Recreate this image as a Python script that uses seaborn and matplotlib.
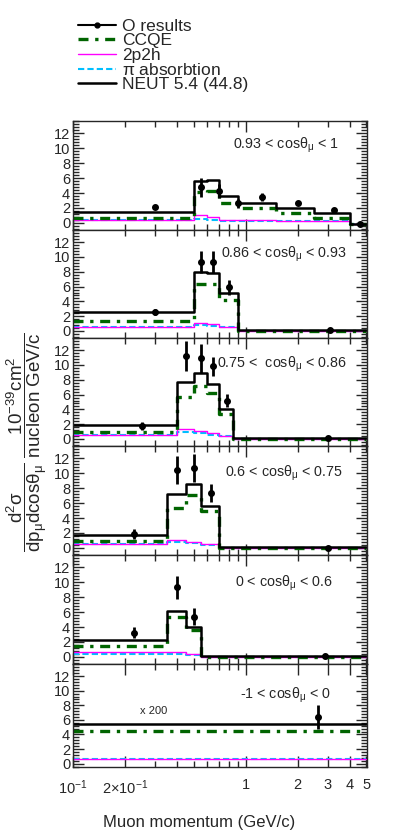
import numpy as np
import pandas as pd
import seaborn as sns
import matplotlib
matplotlib.use("Agg")
import matplotlib.pyplot as plt
from matplotlib.lines import Line2D
from matplotlib.ticker import MultipleLocator, FixedLocator, NullFormatter

# ---- data (cross section, 10^-39 cm^2 / nucleon GeV/c) ----
panel_labels = [r"0.93 < cos$\mathrm{\theta_{\mu}}$ < 1",
                r"0.86 < cos$\mathrm{\theta_{\mu}}$ < 0.93",
                r"0.75 <  cos$\mathrm{\theta_{\mu}}$ < 0.86",
                r"0.6 < cos$\mathrm{\theta_{\mu}}$ < 0.75",
                r"0 < cos$\mathrm{\theta_{\mu}}$ < 0.6",
                r"-1 < cos$\mathrm{\theta_{\mu}}$ < 0"]

# bin edges (GeV/c), first/last clipped to the drawn range
edges_1 = [0.1, 0.5, 0.6, 0.7, 0.9, 1.5, 2.5, 4.0, 5.0]
edges_2 = [0.1, 0.5, 0.6, 0.7, 0.9, 5.0]
edges_3 = [0.1, 0.4, 0.5, 0.6, 0.7, 0.85, 5.0]
edges_4 = [0.1, 0.35, 0.45, 0.55, 0.7, 5.0]
edges_5 = [0.1, 0.35, 0.45, 0.55, 5.0]
edges_6 = [0.1, 5.0]

neut_1 = [1.5, 5.6, 5.75, 3.6, 2.6, 2.0, 1.3, -0.1]
neut_2 = [2.5, 8.0, 7.9, 5.2, 0.1]
neut_3 = [1.9, 7.7, 8.9, 7.4, 4.1, 0.1]
neut_4 = [1.75, 7.2, 8.5, 5.6, 0.1]
neut_5 = [2.25, 6.2, 4.0, 0.1]
neut_6 = [5.5]

ccqe_1 = [0.6, 4.1, 4.3, 2.7, 2.0, 1.35, 0.7, -0.2]
ccqe_2 = [1.4, 6.3, 6.4, 4.25, 0.05]
ccqe_3 = [0.9, 5.7, 7.2, 6.2, 3.4, 0.05]
ccqe_4 = [0.9, 5.4, 7.1, 4.9, 0.05]
ccqe_5 = [1.45, 5.4, 3.6, 0.05]
ccqe_6 = [4.45]

mec_1 = [0.4, 1.0, 0.8, 0.45, 0.36, 0.27, 0.22, -0.2]
mec_2 = [0.6, 1.05, 0.9, 0.6, 0.0]
mec_3 = [0.5, 1.3, 1.05, 0.75, 0.45, 0.0]
mec_4 = [0.5, 1.0, 0.85, 0.5, 0.0]
mec_5 = [0.6, 0.6, 0.35, 0.0]
mec_6 = [0.6]

piabs_1 = [0.35, 0.55, 0.45, 0.3, 0.28, 0.25, 0.2, -0.2]
piabs_2 = [0.6, 0.75, 0.7, 0.55, 0.0]
piabs_3 = [0.5, 0.9, 0.75, 0.6, 0.4, 0.0]
piabs_4 = [0.5, 0.85, 0.65, 0.4, 0.0]
piabs_5 = [0.45, 0.45, 0.25, 0.0]
piabs_6 = [0.6]

# measured points: momentum, value, error
data_p_1 = [0.30, 0.55, 0.70, 0.90, 1.25, 2.0, 3.25, 4.6]
data_y_1 = [2.15, 4.75, 4.3, 2.6, 3.5, 2.7, 1.7, -0.1]
data_e_1 = [0.3, 1.3, 0.9, 0.6, 0.5, 0.3, 0.25, 0.1]
data_p_2 = [0.30, 0.55, 0.65, 0.80, 3.07]
data_y_2 = [2.55, 9.3, 9.3, 5.9, 0.1]
data_e_2 = [0.45, 1.5, 1.5, 1.05, 0.05]
data_p_3 = [0.25, 0.45, 0.55, 0.65, 0.78, 3.02]
data_y_3 = [1.75, 11.2, 10.9, 9.8, 5.2, 0.1]
data_e_3 = [0.5, 2.0, 2.0, 1.3, 0.9, 0.05]
data_p_4 = [0.227, 0.40, 0.50, 0.627, 3.0]
data_y_4 = [1.9, 10.4, 10.7, 7.4, 0.05]
data_e_4 = [0.65, 1.9, 1.9, 1.2, 0.05]
data_p_5 = [0.225, 0.40, 0.50, 2.88]
data_y_5 = [3.25, 9.3, 5.4, 0.1]
data_e_5 = [0.75, 1.5, 1.1, 0.05]
data_p_6 = [2.64]
data_y_6 = [6.4]
data_e_6 = [1.6]

edges = [edges_1, edges_2, edges_3, edges_4, edges_5, edges_6]
neut = [neut_1, neut_2, neut_3, neut_4, neut_5, neut_6]
ccqe = [ccqe_1, ccqe_2, ccqe_3, ccqe_4, ccqe_5, ccqe_6]
mec = [mec_1, mec_2, mec_3, mec_4, mec_5, mec_6]
piabs = [piabs_1, piabs_2, piabs_3, piabs_4, piabs_5, piabs_6]
data_p = [data_p_1, data_p_2, data_p_3, data_p_4, data_p_5, data_p_6]
data_y = [data_y_1, data_y_2, data_y_3, data_y_4, data_y_5, data_y_6]
data_e = [data_e_1, data_e_2, data_e_3, data_e_4, data_e_5, data_e_6]

xtick_vals = [0.1, 0.2, 1, 2, 3, 4, 5]
xtick_labels = [r"$10^{-1}$", r"$2{\times}10^{-1}$", "1", "2", "3", "4", "5"]

# ---- style ----
sns.set_style("ticks")
plt.rcParams['font.family'] = ['Liberation Sans', 'DejaVu Sans']
plt.rcParams['mathtext.fontset'] = 'custom'
plt.rcParams['mathtext.rm'] = 'Liberation Sans'
plt.rcParams['mathtext.it'] = 'Liberation Sans:italic'
plt.rcParams['mathtext.bf'] = 'Liberation Sans:bold'

W, H = 399, 839
fig = plt.figure(figsize=(W / 100, H / 100), dpi=100)

# panel boundaries in pixels (top..bottom)
bounds = [121, 230, 338, 446, 555, 664, 767]
x0, x1 = 73, 367

styles = {
    "ccqe": dict(color="#006400", lw=2.4, ls=(0, (3, 2, 1, 2))),
    "mec": dict(color="#ff00ff", lw=1.0, ls="-"),
    "pi": dict(color="#00bfff", lw=1.5, ls=(0, (3, 1.5))),
    "neut": dict(color="black", lw=1.8, ls="-"),
}

label_pos = [(0.545, 0.78), (0.503, 0.77), (0.490, 0.76),
             (0.517, 0.75), (0.551, 0.74), (0.568, 0.70)]

def step_frame(e, v):
    return pd.DataFrame({"p": e, "v": list(v) + [v[-1]]})

axes = []
for i in range(6):
    top, bot = bounds[i], bounds[i + 1]
    ax = fig.add_axes([x0 / W, 1 - bot / H, (x1 - x0) / W, (bot - top) / H])
    axes.append(ax)
    ax.set_xscale("log")

    for key, vals in [("pi", piabs[i]), ("mec", mec[i]), ("ccqe", ccqe[i]), ("neut", neut[i])]:
        d = step_frame(edges[i], vals)
        sns.lineplot(data=d, x="p", y="v", ax=ax, drawstyle="steps-post",
                     estimator=None, **styles[key])

    ax.errorbar(data_p[i], data_y[i], yerr=data_e[i], fmt="o", color="black",
                ms=4, elinewidth=2, capsize=0, zorder=5)

    ax.set_xlim(0.1, 5.05)
    if i == 5:
        ax.set_ylim(-0.45, 13.65)
    else:
        ax.set_ylim(-0.95, 13.65)
    ax.yaxis.set_minor_locator(MultipleLocator(0.4))
    ax.set_yticks([0, 2, 4, 6, 8, 10, 12])
    ax.xaxis.set_major_locator(FixedLocator([0.1, 1]))
    ax.xaxis.set_minor_locator(FixedLocator([0.2, 0.3, 0.4, 0.5, 0.6, 0.7, 0.8, 0.9,
                                             2, 3, 4, 5]))
    ax.xaxis.set_minor_formatter(NullFormatter())
    ax.tick_params(which="both", direction="in", top=True, right=True,
                   labelsize=10.5, width=1)
    ax.tick_params(which="major", length=8, pad=2)
    ax.tick_params(which="minor", length=4)
    for s in ax.spines.values():
        s.set_linewidth(1)
    ax.set_xlabel("")
    ax.set_ylabel("")
    if i < 5:
        ax.set_xticklabels([])
    ax.text(label_pos[i][0], label_pos[i][1], panel_labels[i], transform=ax.transAxes,
            fontsize=10.3, ha="left", va="center")

# bottom panel tick labels
axb = axes[-1]
axb.xaxis.set_major_locator(FixedLocator(xtick_vals))
axb.xaxis.set_minor_locator(FixedLocator([0.3, 0.4, 0.5, 0.6, 0.7, 0.8, 0.9]))
axb.set_xticklabels(xtick_labels)
axb.tick_params(axis="x", which="major", pad=8, labelsize=10.5)
axb.text(0.228, 0.50, "x 200", transform=axb.transAxes, fontsize=8, ha="left", va="bottom")

fig.text(199 / W, 1 - 822 / H, "Muon momentum (GeV/c)", fontsize=12,
         ha="center", va="center")
fig.text(27 / W, 1 - 442 / H,
         r"$\dfrac{\mathrm{d^{2}\sigma}}{\mathrm{dp_{\mu}dcos\theta_{\mu}}}\ \dfrac{\mathrm{10^{-39}cm^{2}}}{\mathrm{nucleon\ GeV/c}}$",
         rotation=90, fontsize=13.5, ha="center", va="center")

handles = [
    Line2D([], [], color="black", lw=1.5, marker="o", ms=3.5),
    Line2D([], [], **styles["ccqe"]),
    Line2D([], [], **styles["mec"]),
    Line2D([], [], **styles["pi"]),
    Line2D([], [], **styles["neut"]),
]
names = ["O results", "CCQE", "2p2h", r"$\mathrm{\pi}$ absorbtion", "NEUT 5.4 (44.8)"]
fig.legend(handles, names, loc="upper left", bbox_to_anchor=(78 / W, 1 - 19 / H),
           frameon=False, fontsize=12.5, handlelength=2.2, handletextpad=0.35,
           labelspacing=-0.05, borderaxespad=0, borderpad=0)

fig.savefig("out.png", dpi=100)
